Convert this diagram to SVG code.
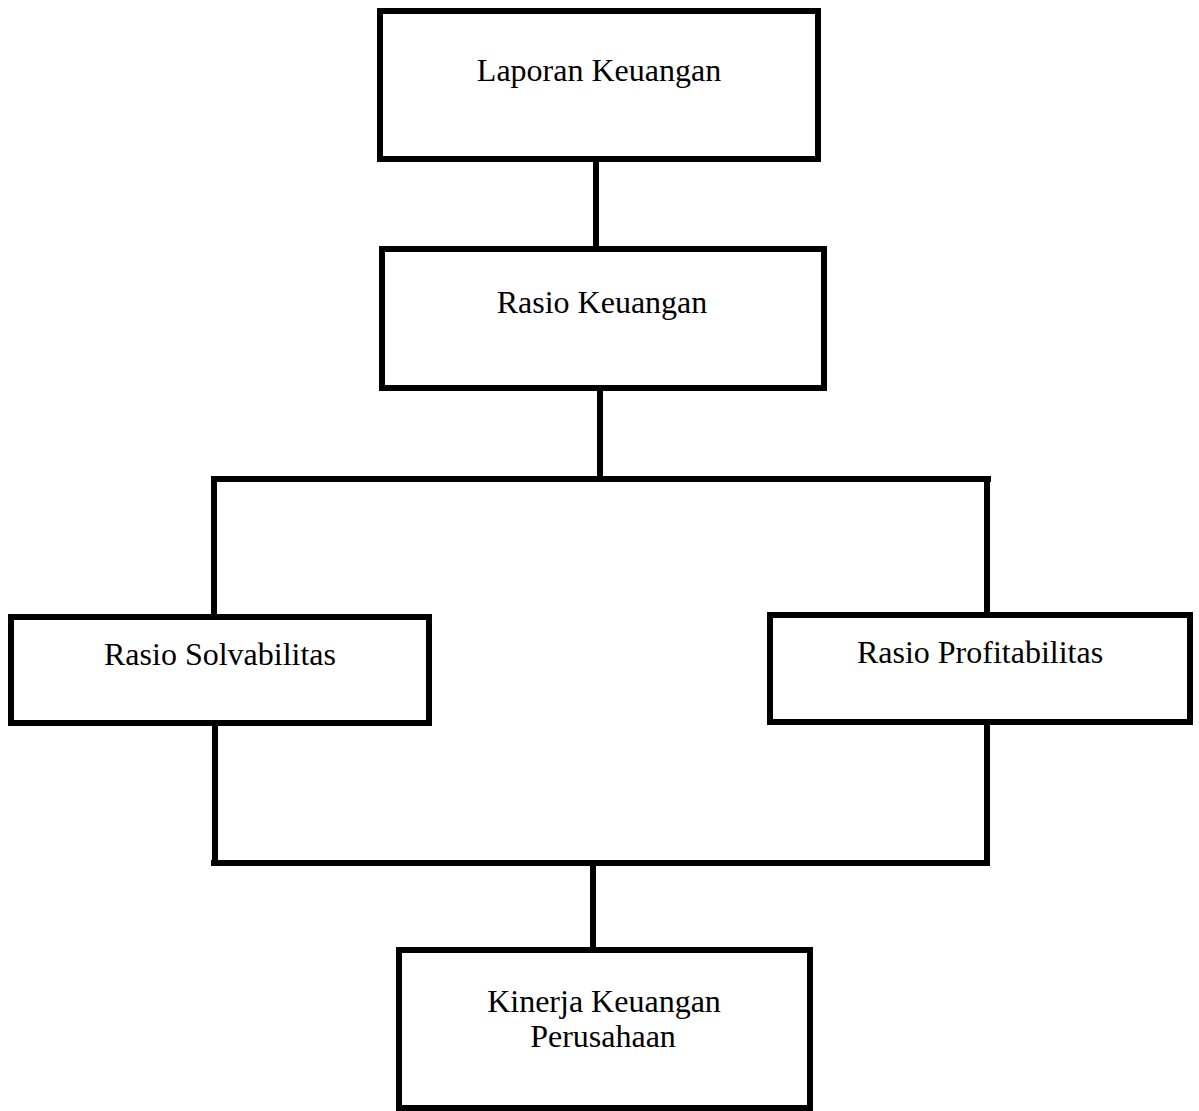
<svg xmlns="http://www.w3.org/2000/svg" width="1199" height="1111" viewBox="0 0 1199 1111">
<style>
.box{fill:#fff;stroke:#000;stroke-width:6}
.lbl{font-family:"Liberation Serif","Times New Roman",serif;font-size:32px;fill:#000;text-anchor:middle}
.con line{stroke:#000;stroke-width:6;stroke-linecap:butt}
</style>
<rect width="1199" height="1111" fill="#fff"/>
<g id="connectors" class="con">
<line x1="596" y1="159" x2="596" y2="249"/>
<line x1="600" y1="388" x2="600" y2="479"/>
<line x1="211" y1="479" x2="991" y2="479"/>
<line x1="214" y1="479" x2="214" y2="617"/>
<line x1="987" y1="479" x2="987" y2="615"/>
<line x1="215" y1="723" x2="215" y2="860"/>
<line x1="987" y1="722" x2="987" y2="860"/>
<line x1="211" y1="863" x2="990" y2="863"/>
<line x1="593" y1="866" x2="593" y2="950"/>
</g>
<g id="laporan-keuangan">
<rect class="box" x="380" y="11" width="438" height="148"/>
<text class="lbl" x="599" y="81">Laporan Keuangan</text>
</g>
<g id="rasio-keuangan">
<rect class="box" x="382" y="249" width="442" height="139"/>
<text class="lbl" x="602" y="313">Rasio Keuangan</text>
</g>
<g id="rasio-solvabilitas">
<rect class="box" x="11" y="617" width="418" height="106"/>
<text class="lbl" x="220" y="665">Rasio Solvabilitas</text>
</g>
<g id="rasio-profitabilitas">
<rect class="box" x="770" y="615" width="420" height="107"/>
<text class="lbl" x="980" y="663">Rasio Profitabilitas</text>
</g>
<g id="kinerja-keuangan">
<rect class="box" x="399" y="950" width="411" height="158"/>
<text class="lbl" x="604" y="1012">Kinerja Keuangan</text>
<text class="lbl" x="603" y="1047">Perusahaan</text>
</g>
</svg>
